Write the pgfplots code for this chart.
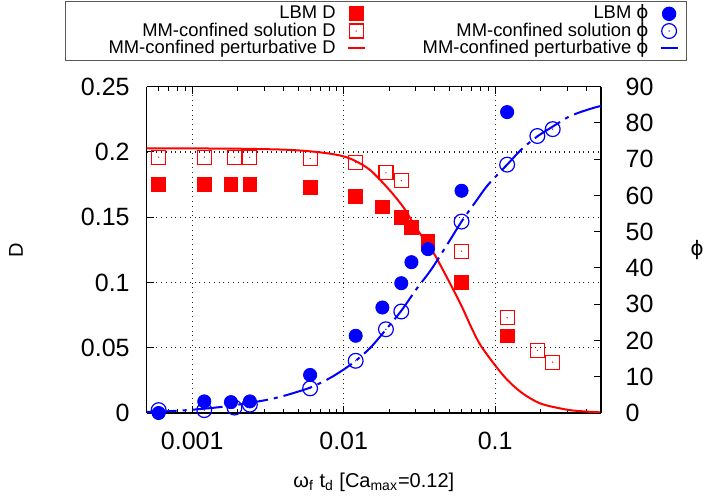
\documentclass[border=0pt]{standalone}
\usepackage{fontspec}
\setmainfont{Liberation Sans}
\newfontfamily\dejavu{DejaVu Sans}
\usepackage{pgfplots}
\pgfplotsset{compat=1.18}
\newcommand{\phis}{{\dejavu ϕ}}
\definecolor{gred}{RGB}{255,0,0}
\definecolor{gblue}{RGB}{0,0,255}
\pgfdeclareplotmark{sqdot}{%
  \pgfpathrectangle{\pgfqpoint{-\pgfplotmarksize}{-\pgfplotmarksize}}{\pgfqpoint{2\pgfplotmarksize}{2\pgfplotmarksize}}%
  \pgfusepathqstroke
  \pgfpathcircle{\pgfpointorigin}{0.35pt}%
  \pgfusepathqfill
}
\pgfdeclareplotmark{ocdot}{%
  \pgfpathcircle{\pgfpointorigin}{\pgfplotmarksize}%
  \pgfusepathqstroke
  \pgfpathcircle{\pgfpointorigin}{0.35pt}%
  \pgfusepathqfill
}
\newcommand{\lc}[1]{\makebox[131pt][r]{#1}}
\newcommand{\rc}[1]{\makebox[141.5pt][r]{#1}}
\begin{document}
\begin{tikzpicture}
\useasboundingbox (-73.35pt,-43.5pt) rectangle (280.65pt,206.5pt);
\begin{axis}[
  xmode=log,
  scale only axis, width=227.15pt, height=163.15pt,
  at={(0pt,0pt)}, anchor=south west,
  xmin=0.0005, xmax=0.5,
  clip=false,
  axis line style={line width=0.6pt, black},
  every tick/.style={line width=0.5pt, black},
  major tick length=3.5pt, minor tick length=2pt,
  tick align=inside,
  ticklabel style={font=\fontsize{12.5}{14}\selectfont},
  /pgf/number format/assume math mode=true,
  label style={font=\fontsize{10}{12}\selectfont},
  axis y line*=left,
  ymin=0, ymax=0.25,
  ytick={0,0.05,0.1,0.15,0.2,0.25},
  yticklabels={0,0.05,0.1,0.15,0.2,0.25},
  xtick={0.001,0.01,0.1},
  xticklabels={0.001,0.01,0.1},
  minor xtick={0.0006,0.0007,0.0008,0.0009,0.002,0.003,0.004,0.005,0.006,0.007,0.008,0.009,0.02,0.03,0.04,0.05,0.06,0.07,0.08,0.09,0.2,0.3,0.4},
  xmajorgrids, ymajorgrids,
  major grid style={dotted, line width=0.6pt, black!85},
  yticklabel style={xshift=-5pt},
  xticklabel style={yshift=-6pt},
  xlabel={ω\textsubscript{f} t\textsubscript{d} [Ca\textsubscript{max}=0.12]},
  ylabel={D},
  xlabel style={at={(axis description cs:0.5,-0.2115)}, anchor=center},
  ylabel style={at={(axis description cs:-0.2875,0.5)}, anchor=center},
]
\addplot[only marks, mark=square*, mark size=3.4pt, color=gred] coordinates {
(0.0006,0.175) (0.0012,0.175) (0.0018,0.175) (0.0024,0.175) (0.006,0.173)
(0.012,0.166) (0.018,0.158) (0.024,0.150) (0.028,0.142) (0.036,0.132)
(0.06,0.100) (0.12,0.059)
};
\addplot[only marks, mark=sqdot, mark size=3.5pt, draw=gred, fill=gred, mark options={line width=0.6pt, draw=gred, fill=gred}] coordinates {
(0.0006,0.196) (0.0012,0.196) (0.0019,0.196) (0.0024,0.196) (0.006,0.195)
(0.012,0.192) (0.019,0.184) (0.024,0.178) (0.06,0.124) (0.12,0.073)
(0.19,0.048) (0.24,0.039)
};
\addplot[gred, line width=1pt, no marks, smooth] coordinates {
(0.0005,0.2027) (0.001,0.2027) (0.002,0.2025) (0.004,0.2018) (0.006,0.2005)
(0.008,0.1988) (0.01,0.1966) (0.012,0.193) (0.015,0.186) (0.02,0.171)
(0.025,0.157) (0.03,0.142) (0.035,0.131) (0.04,0.121) (0.05,0.100)
(0.06,0.082) (0.07,0.065) (0.08,0.052) (0.1,0.0365) (0.12,0.0255)
(0.15,0.0155) (0.2,0.0072) (0.3,0.0025) (0.4,0.0011) (0.5,0.0005)
};
\end{axis}
\begin{axis}[
  xmode=log,
  scale only axis, width=227.15pt, height=163.15pt,
  at={(0pt,0pt)}, anchor=south west,
  xmin=0.0005, xmax=0.5,
  clip=false,
  axis line style={line width=0.6pt, black},
  every tick/.style={line width=0.5pt, black},
  major tick length=3.5pt, minor tick length=2pt,
  tick align=inside,
  ticklabel style={font=\fontsize{12.5}{14}\selectfont},
  /pgf/number format/assume math mode=true,
  label style={font=\fontsize{10}{12}\selectfont},
  axis y line*=right,
  axis x line=none,
  ymin=0, ymax=90,
  ytick={0,10,...,90},
  yticklabel style={xshift=8.8pt},
  ylabel={\phis},
  ylabel style={at={(axis description cs:1.2113,0.5)}, anchor=center, rotate=90},
  legend columns=2,
  legend plot pos=right,
  legend cell align=right,
  legend image code/.code={\path (0pt,0pt); \draw[mark repeat=2,mark phase=2,#1] plot coordinates {(5.5pt,0pt) (9.75pt,0pt) (14pt,0pt)};},
  legend style={at={(axis description cs:-0.1798,1.2626)}, anchor=north west,
    draw=black!65, line width=0.6pt, font=\fontsize{9.2}{10}\selectfont,
    inner xsep=4pt, inner ysep=1.8pt, row sep=0pt, column sep=0pt,
    nodes={text height=6.8pt, text depth=1.8pt, inner ysep=0pt, inner xsep=0pt}},
]
\addlegendimage{only marks, mark=square*, mark size=3.4pt, color=gred}
\addlegendentry{\lc{LBM D}}
\addplot[only marks, mark=*, mark size=3.3pt, color=gblue] coordinates {
(0.0006,0) (0.0012,3.2) (0.0018,3.0) (0.0024,3.2) (0.006,10.5)
(0.012,21.3) (0.018,29.1) (0.024,35.8) (0.028,41.6) (0.036,45.2)
(0.06,61.3) (0.12,83.0)
};
\addlegendentry{\rc{LBM \phis}}
\addlegendimage{only marks, mark=sqdot, mark size=3.5pt, draw=gred, fill=gred, mark options={line width=0.6pt, draw=gred, fill=gred}}
\addlegendentry{\lc{MM-confined solution D}}
\addplot[only marks, mark=ocdot, mark size=3.7pt, draw=gblue, fill=gblue, mark options={line width=0.6pt, draw=gblue, fill=gblue}] coordinates {
(0.0006,0.8) (0.0012,0.8) (0.0019,1.5) (0.0024,2.3) (0.006,6.8)
(0.012,14.4) (0.019,23.1) (0.024,28.0) (0.06,52.8) (0.12,68.5)
(0.19,76.4) (0.24,78.3)
};
\addlegendentry{\rc{MM-confined solution \phis}}
\addlegendimage{gred, line width=1pt, no marks}
\addlegendentry{\lc{MM-confined perturbative D}}
\addplot[gblue, line width=1pt, no marks, smooth, dash pattern=on 15pt off 3pt on 2pt off 3pt] coordinates {
(0.0005,0.3) (0.0007,0.5) (0.001,0.9) (0.0015,1.6) (0.002,2.3) (0.003,3.5)
(0.004,4.7) (0.006,7.0) (0.008,9.5) (0.01,12.0) (0.012,14.4) (0.015,18.0)
(0.019,23.0) (0.024,28.2) (0.03,34.0) (0.038,39.7) (0.05,47.5) (0.06,52.8)
(0.075,58.5) (0.09,63.0) (0.12,68.5) (0.15,72.8) (0.19,76.3) (0.24,79.0)
(0.3,81.5) (0.36,82.9) (0.45,84.2) (0.5,84.7)
};
\addlegendentry{\rc{MM-confined perturbative \phis}}
\end{axis}
\end{tikzpicture}
\end{document}
